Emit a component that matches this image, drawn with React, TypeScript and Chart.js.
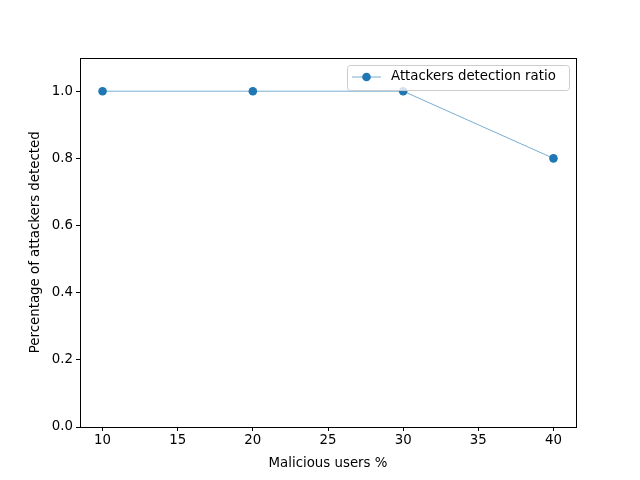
import React, { useEffect, useRef } from "react";
import { Chart, registerables } from "chart.js";
Chart.register(...registerables);

const xValues = [10, 20, 30, 40];
const detectionRatio = [1.0, 1.0, 1.0, 0.8];
const xTicks = [10, 15, 20, 25, 30, 35, 40];
const yTicks = [0, 0.2, 0.4, 0.6, 0.8, 1.0];
const seriesLabel = "Attackers detection ratio";
const xTitle = "Malicious users %";
const yTitle = "Percentage of attackers detected";

const BLUE = "#1f77b4";
const FONT = "DejaVu Sans";

const framePlugin = {
  id: "frame",
  afterDatasetsDraw(chart: any) {
    const { ctx, chartArea: a } = chart;
    ctx.save();
    ctx.strokeStyle = "#000";
    ctx.lineWidth = 1;
    ctx.strokeRect(Math.round(a.left) + 0.5, Math.round(a.top) + 0.5, Math.round(a.right - a.left), Math.round(a.bottom - a.top));
    // legend
    const bx = 347.5, by = 65.5, bw = 222, bh = 25;
    ctx.fillStyle = "rgba(255,255,255,0.8)";
    ctx.strokeStyle = "#cccccc";
    ctx.beginPath();
    (ctx as any).roundRect(bx, by, bw, bh, 3);
    ctx.fill();
    ctx.stroke();
    ctx.strokeStyle = BLUE;
    ctx.lineWidth = 0.6;
    ctx.beginPath();
    ctx.moveTo(352, 77);
    ctx.lineTo(381, 77);
    ctx.stroke();
    ctx.fillStyle = BLUE;
    ctx.beginPath();
    ctx.arc(366.5, 77, 4.3, 0, Math.PI * 2);
    ctx.fill();
    ctx.fillStyle = "#000";
    ctx.font = `13.33px "${FONT}"`;
    ctx.textBaseline = "middle";
    ctx.textAlign = "left";
    ctx.fillText(seriesLabel, 391, 77);
    ctx.restore();
  },
};

export default function App() {
  const ref = useRef<HTMLCanvasElement>(null);
  useEffect(() => {
    const chart = new Chart(ref.current!, {
      type: "line",
      data: {
        datasets: [
          {
            label: seriesLabel,
            data: xValues.map((x, i) => ({ x, y: detectionRatio[i] })),
            borderColor: BLUE,
            backgroundColor: BLUE,
            borderWidth: 0.6,
            pointRadius: 4.3,
            pointHoverRadius: 4.3,
            pointBorderWidth: 0,
            pointBackgroundColor: BLUE,
            fill: false,
            tension: 0,
          },
        ],
      },
      options: {
        animation: false,
        responsive: false,
        devicePixelRatio: 1,
        layout: { padding: { left: 28, right: 64, top: 57.6, bottom: 8 } },
        plugins: { legend: { display: false }, tooltip: { enabled: false } },
        scales: {
          x: {
            type: "linear",
            min: 8.5,
            max: 41.5,
            afterBuildTicks: (s: any) => {
              s.ticks = xTicks.map((v) => ({ value: v }));
            },
            afterFit: (s: any) => {
              s.height = 45;
            },
            grid: { drawOnChartArea: false, drawTicks: true, tickLength: 4, color: "#000", tickWidth: 1 },
            border: { display: false },
            ticks: { color: "#000", font: { family: FONT, size: 13.33 }, padding: 2, maxRotation: 0, callback: (v: any) => String(v) },
            title: { display: true, text: xTitle, color: "#000", font: { family: FONT, size: 13.33 }, padding: { top: 2, bottom: 0 } },
          },
          y: {
            type: "linear",
            min: 0,
            max: 1.1,
            afterBuildTicks: (s: any) => {
              s.ticks = yTicks.map((v) => ({ value: v }));
            },
            afterFit: (s: any) => {
              s.width = 52;
            },
            grid: { drawOnChartArea: false, drawTicks: true, tickLength: 4, color: "#000", tickWidth: 1 },
            border: { display: false },
            ticks: { color: "#000", font: { family: FONT, size: 13.33 }, padding: 3, callback: (v: any) => Number(v).toFixed(1) },
            title: { display: true, text: yTitle, color: "#000", font: { family: FONT, size: 13.33 }, padding: { top: 0, bottom: 6 } },
          },
        },
      },
      plugins: [framePlugin],
    } as any);
    return () => chart.destroy();
  }, []);
  return (
    <div style={{ position: "fixed", left: 0, top: 0, width: 640, height: 480, background: "#fff" }}>
      <canvas ref={ref} width={640} height={480} style={{ width: 640, height: 480 }} />
    </div>
  );
}
